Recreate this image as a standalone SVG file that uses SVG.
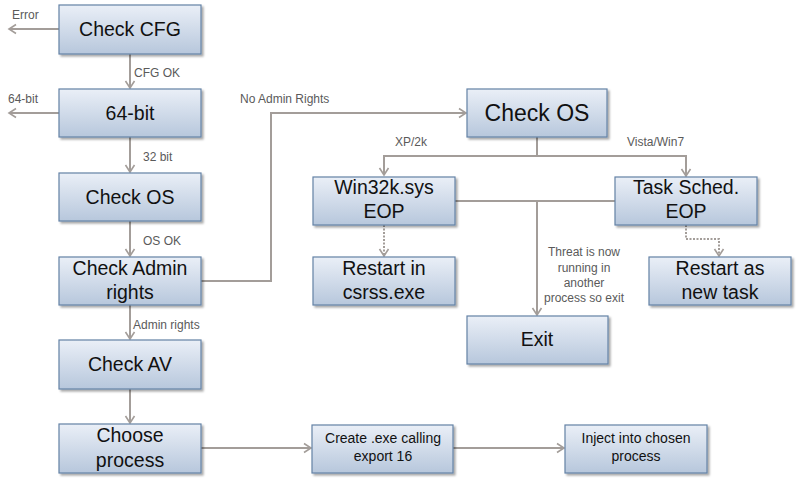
<svg xmlns="http://www.w3.org/2000/svg" width="804" height="496" viewBox="0 0 804 496">
<defs>
<linearGradient id="g" x1="0" y1="0" x2="0" y2="1">
<stop offset="0" stop-color="#eaeff7"/>
<stop offset="1" stop-color="#b7c7dc"/>
</linearGradient>
<filter id="sh" x="-10%" y="-10%" width="130%" height="140%">
<feGaussianBlur in="SourceAlpha" stdDeviation="1.2"/>
<feOffset dx="1.5" dy="2" result="b"/>
<feComponentTransfer><feFuncA type="linear" slope="0.35"/></feComponentTransfer>
<feMerge><feMergeNode/><feMergeNode in="SourceGraphic"/></feMerge>
</filter>
<marker id="ar" markerWidth="12" markerHeight="12" refX="9" refY="6" orient="auto" markerUnits="userSpaceOnUse">
<path d="M2,1.5 L9,6 L2,10.5" fill="none" stroke="#a39d99" stroke-width="1.6"/>
</marker>
</defs>
<style>
.box{fill:url(#g);stroke:#6482a6;stroke-width:1.2;filter:url(#sh)}
.t{font-family:"Liberation Sans",Arial,sans-serif;font-size:19.5px;fill:#111;text-anchor:middle}
.ts{font-family:"Liberation Sans",Arial,sans-serif;font-size:14px;fill:#111;text-anchor:middle}
.lb{font-family:"Liberation Sans",Arial,sans-serif;font-size:12px;fill:#5a5a5a}
.c{fill:none;stroke:#a39d99;stroke-width:2}
.d{fill:none;stroke:#a39d99;stroke-width:2;stroke-dasharray:2 1.5}
</style>
<rect width="804" height="496" fill="#ffffff"/>
<g id="connectors">
<line class="c" x1="59" y1="29" x2="9" y2="29" marker-end="url(#ar)"/>
<line class="c" x1="59" y1="113" x2="9" y2="113" marker-end="url(#ar)"/>
<line class="c" x1="130" y1="54" x2="130" y2="88" marker-end="url(#ar)"/>
<line class="c" x1="130" y1="137" x2="130" y2="172" marker-end="url(#ar)"/>
<line class="c" x1="130" y1="221" x2="130" y2="256" marker-end="url(#ar)"/>
<line class="c" x1="130" y1="305" x2="130" y2="339" marker-end="url(#ar)"/>
<line class="c" x1="130" y1="389" x2="130" y2="423" marker-end="url(#ar)"/>
<polyline class="c" points="201,281 271,281 271,113 466,113" marker-end="url(#ar)"/>
<line class="c" x1="537" y1="137" x2="537" y2="156"/>
<polyline class="c" points="384,175 384,156 686,156 686,176" marker-end="url(#ar)"/>
<line class="c" x1="384" y1="157" x2="384" y2="175" marker-end="url(#ar)"/>
<line class="c" x1="455" y1="201" x2="615" y2="201"/>
<line class="c" x1="537" y1="201" x2="537" y2="315" marker-end="url(#ar)"/>
<line class="d" x1="384" y1="225" x2="384" y2="256" marker-end="url(#ar)"/>
<polyline class="d" points="686,225 686,239 719,239 719,256" marker-end="url(#ar)"/>
<line class="c" x1="201" y1="448" x2="311" y2="448" marker-end="url(#ar)"/>
<line class="c" x1="453" y1="448" x2="564" y2="448" marker-end="url(#ar)"/>
<text class="lb" x="12" y="19">Error</text>
<text class="lb" x="8" y="103">64-bit</text>
<text class="lb" x="134" y="77">CFG OK</text>
<text class="lb" x="143" y="161">32 bit</text>
<text class="lb" x="143" y="245">OS OK</text>
<text class="lb" x="133" y="329">Admin rights</text>
<text class="lb" x="240" y="103">No Admin Rights</text>
<text class="lb" x="395" y="146">XP/2k</text>
<text class="lb" x="627" y="146">Vista/Win7</text>
<text class="lb" x="584" y="256" text-anchor="middle">Threat is now</text>
<text class="lb" x="584" y="272" text-anchor="middle">running in</text>
<text class="lb" x="584" y="287" text-anchor="middle">another</text>
<text class="lb" x="584" y="302" text-anchor="middle">process so exit</text>
</g>
<g id="n-checkcfg"><rect class="box" x="59" y="5" width="142" height="49"/><text class="t" x="130" y="36">Check CFG</text></g>
<g id="n-64bit"><rect class="box" x="59" y="89" width="142" height="48"/><text class="t" x="130" y="120">64-bit</text></g>
<g id="n-checkos1"><rect class="box" x="59" y="173" width="142" height="48"/><text class="t" x="130" y="204">Check OS</text></g>
<g id="n-admin"><rect class="box" x="59" y="257" width="142" height="48"/><text class="t" x="130" y="275">Check Admin</text><text class="t" x="130" y="299">rights</text></g>
<g id="n-av"><rect class="box" x="59" y="340" width="142" height="49"/><text class="t" x="130" y="371">Check AV</text></g>
<g id="n-choose"><rect class="box" x="59" y="424" width="142" height="49"/><text class="t" x="130" y="442">Choose</text><text class="t" x="130" y="467">process</text></g>
<g id="n-checkos2"><rect class="box" x="467" y="89" width="140" height="48"/><text class="t" x="537" y="121" style="font-size:23px">Check OS</text></g>
<g id="n-win32k"><rect class="box" x="313" y="177" width="142" height="48"/><text class="t" x="384" y="194">Win32k.sys</text><text class="t" x="384" y="218">EOP</text></g>
<g id="n-tasksched"><rect class="box" x="615" y="177" width="142" height="48"/><text class="t" x="686" y="194">Task Sched.</text><text class="t" x="686" y="218">EOP</text></g>
<g id="n-csrss"><rect class="box" x="313" y="257" width="142" height="48"/><text class="t" x="384" y="275">Restart in</text><text class="t" x="384" y="299">csrss.exe</text></g>
<g id="n-newtask"><rect class="box" x="649" y="257" width="142" height="48"/><text class="t" x="720" y="275">Restart as</text><text class="t" x="720" y="299">new task</text></g>
<g id="n-exit"><rect class="box" x="467" y="316" width="141" height="48"/><text class="t" x="537" y="346">Exit</text></g>
<g id="n-create"><rect class="box" x="312" y="425" width="141" height="48"/><text class="ts" x="383" y="443">Create .exe calling</text><text class="ts" x="383" y="461">export 16</text></g>
<g id="n-inject"><rect class="box" x="565" y="425" width="142" height="48"/><text class="ts" x="636" y="443">Inject into chosen</text><text class="ts" x="636" y="461">process</text></g>
</svg>
